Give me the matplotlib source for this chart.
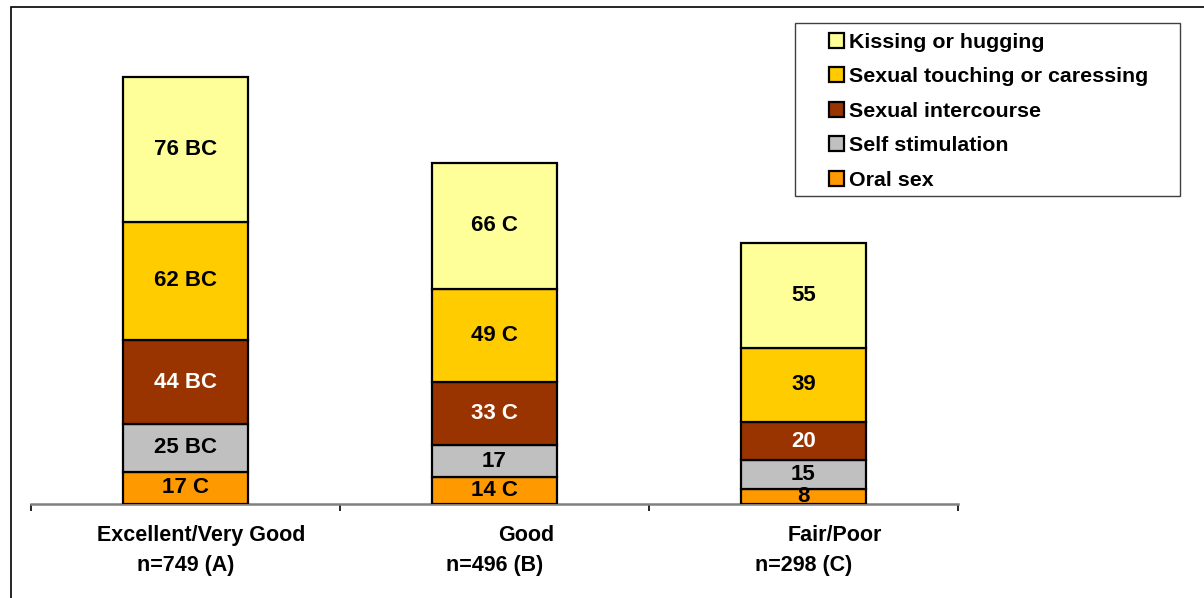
import matplotlib.pyplot as plt
from matplotlib.patches import Rectangle
from matplotlib.transforms import blended_transform_factory

plt.rcParams['font.family'] = ['Liberation Sans', 'DejaVu Sans']
plt.rcParams['font.weight'] = 'bold'

# data, bottom segment first
groups = ['Excellent/Very Good', 'Good', 'Fair/Poor']
group_n = ['n=749 (A)', 'n=496 (B)', 'n=298 (C)']
series = ['Oral sex', 'Self stimulation', 'Sexual intercourse',
          'Sexual touching or caressing', 'Kissing or hugging']
oral = [17, 14, 8]
self_stim = [25, 17, 15]
intercourse = [44, 33, 20]
touching = [62, 49, 39]
kissing = [76, 66, 55]
sig_oral = ['C', 'C', '']
sig_self = ['BC', '', '']
sig_inter = ['BC', 'C', '']
sig_touch = ['BC', 'C', '']
sig_kiss = ['BC', 'C', '']

values = [oral, self_stim, intercourse, touching, kissing]
sigs = [sig_oral, sig_self, sig_inter, sig_touch, sig_kiss]
colors = ['#FF9900', '#C0C0C0', '#993300', '#FFCC00', '#FFFF99']
text_colors = ['black', 'black', 'white', 'black', 'black']

fig = plt.figure(figsize=(12.04, 5.98), dpi=100)
W, H = 1204.0, 598.0
ax = fig.add_axes([31 / W, 1 - 504 / H, (958 - 31) / W, 476.5 / H])

x = list(range(len(groups)))
bottoms = [0] * len(groups)
handles = []
for vals, sg, col, tc, name in zip(values, sigs, colors, text_colors, series):
    bars = ax.bar(x, vals, width=0.405, bottom=bottoms, color=col,
                  edgecolor='black', linewidth=1.6, label=name, zorder=3)
    handles.append(bars)
    for xi, v, b, s in zip(x, vals, bottoms, sg):
        lab = '{} {}'.format(v, s) if s else '{}'.format(v)
        ax.text(xi, b + v / 2.0, lab, ha='center', va='center',
                color=tc, fontsize=16, fontweight='bold', zorder=4)
    bottoms = [b + v for b, v in zip(bottoms, vals)]

ax.set_xlim(-0.5, 2.5)
ax.set_ylim(0, 250)
for sp in ['left', 'right', 'top']:
    ax.spines[sp].set_visible(False)
ax.spines['bottom'].set_color('#808080')
ax.spines['bottom'].set_linewidth(1.8)
ax.set_yticks([])
ax.set_xticks([-0.5, 0.5, 1.5, 2.5])
ax.set_xticklabels([])
ax.tick_params(axis='x', direction='out', length=5, width=1.2, color='black')

# category labels in two lines
line1_shift = [0.052, 0.104, 0.10]
trans = blended_transform_factory(ax.transData, ax.transAxes)
for xi, g, n, sh in zip(x, groups, group_n, line1_shift):
    ax.annotate(g, xy=(xi + sh, 0), xycoords=trans, xytext=(0, -23),
                textcoords='offset points', ha='center', va='center',
                fontsize=15.5, fontweight='bold')
    ax.annotate(n, xy=(xi, 0), xycoords=trans, xytext=(0, -44),
                textcoords='offset points', ha='center', va='center',
                fontsize=15.5, fontweight='bold')

# legend (top series first)
leg = fig.legend(handles[::-1], series[::-1], loc='upper left',
                 bbox_to_anchor=(829 / W, 1 - 33 / H), frameon=False,
                 fontsize=15.4, handlelength=0.7, handleheight=0.7,
                 handletextpad=0.25, labelspacing=0.72, borderpad=0,
                 borderaxespad=0)
for t in leg.get_texts():
    t.set_fontweight('bold')
fig.patches.append(Rectangle((795 / W, 1 - 196 / H), (1180 - 795) / W,
                             (196 - 23) / H, transform=fig.transFigure,
                             fill=False, edgecolor='#404040', linewidth=1.0))

# outer frame
fig.patches.append(Rectangle((11 / W, -0.1), 1.2, 1.1 - 7 / H,
                             transform=fig.transFigure, fill=False,
                             edgecolor='black', linewidth=1.2))

fig.savefig('out.png', dpi=100)
